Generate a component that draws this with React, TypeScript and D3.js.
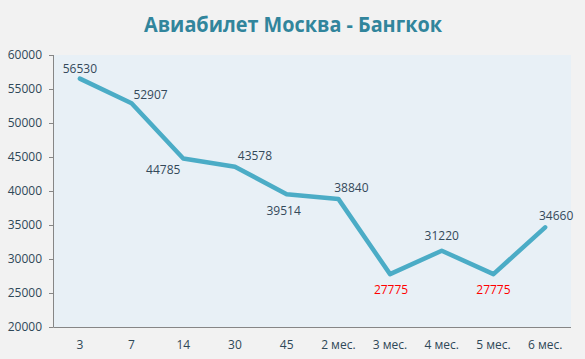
import React from "react";
import * as d3 from "d3";

const categories = ["3", "7", "14", "30", "45", "2 мес.", "3 мес.", "4 мес.", "5 мес.", "6 мес."];
const prices = [56530, 52907, 44785, 43578, 39514, 38840, 27775, 31220, 27775, 34660];
const yTicks = [20000, 25000, 30000, 35000, 40000, 45000, 50000, 55000, 60000];
const title = "Авиабилет Москва - Бангкок";
// label placement (style): offset of label centre from its point
const labelOffsets: [number, number][] = [
  [0, -10], [19, -8], [-20, 11], [20, -11], [-3, 16],
  [13, -11], [1, 16], [0, -15], [0, 16], [11, -12],
];

const W = 585;
const H = 359;
const M = { left: 54, right: 571, top: 55, bottom: 327 };

export default function App() {
  const x = d3.scaleBand<string>().domain(categories).range([M.left, M.right]).padding(0);
  const y = d3.scaleLinear().domain([20000, 60000]).range([M.bottom, M.top]);
  const minV = d3.min(prices) as number;
  const cx = (i: number) => (x(categories[i]) as number) + x.bandwidth() / 2;
  const line = d3
    .line<number>()
    .x((_, i) => cx(i))
    .y((d) => y(d));
  const font = "'Open Sans', sans-serif";
  return (
    <svg
      width={W}
      height={H}
      style={{ position: "absolute", left: 0, top: 0, display: "block" }}
    >
      <rect x={0} y={0} width={W} height={H} fill="#f2f2f2" />
      <rect
        x={M.left}
        y={M.top}
        width={M.right - M.left}
        height={M.bottom - M.top}
        fill="#e8f0f6"
      />
      <text
        x={293}
        y={32}
        textAnchor="middle"
        fontFamily={font}
        fontWeight={700}
        fontSize={21}
        fill="#31859c"
        textLength={298}
        lengthAdjust="spacingAndGlyphs"
      >
        {title}
      </text>
      {/* y axis */}
      <line x1={M.left - 0.5} x2={M.left - 0.5} y1={M.top} y2={M.bottom} stroke="#868686" />
      {yTicks.map((t) => (
        <g key={t}>
          <line x1={M.left - 5} x2={M.left - 0.5} y1={Math.round(y(t)) + 0.5} y2={Math.round(y(t)) + 0.5} stroke="#868686" />
          <text
            x={42}
            y={y(t)}
            dy="0.35em"
            textAnchor="end"
            fontFamily={font}
            fontSize={12}
            fill="#2f4858"
          >
            {t}
          </text>
        </g>
      ))}
      {/* x axis */}
      <line x1={M.left - 0.5} x2={M.right} y1={M.bottom + 0.5} y2={M.bottom + 0.5} stroke="#868686" />
      {categories.map((c, i) => (
        <text
          key={c}
          x={cx(i)}
          y={345}
          dy="0.35em"
          textAnchor="middle"
          fontFamily={font}
          fontSize={12}
          fill="#2f4858"
        >
          {c}
        </text>
      ))}
      <path
        d={line(prices) as string}
        fill="none"
        stroke="#4bacc6"
        strokeWidth={4.5}
        strokeLinejoin="round"
        strokeLinecap="round"
      />
      {prices.map((v, i) => (
        <text
          key={i}
          x={cx(i) + labelOffsets[i][0]}
          y={y(v) + labelOffsets[i][1]}
          dy="0.35em"
          textAnchor="middle"
          fontFamily={font}
          fontSize={12}
          fill={v === minV ? "#ff0000" : "#34495a"}
        >
          {v}
        </text>
      ))}
    </svg>
  );
}
